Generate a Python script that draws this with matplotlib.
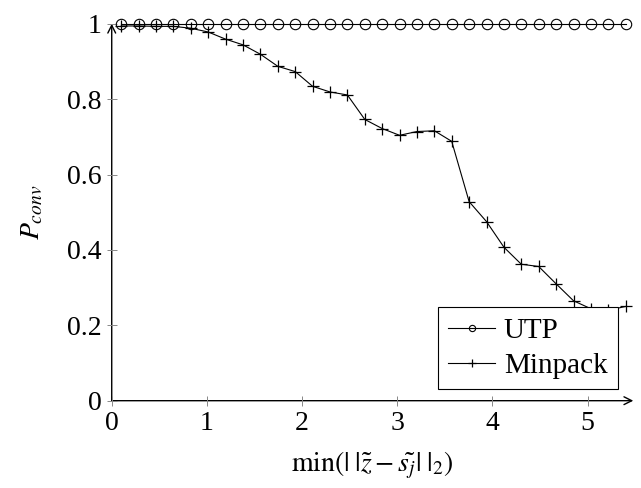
import matplotlib.pyplot as plt

plt.rcParams["font.family"] = ["Liberation Serif", "DejaVu Serif"]
plt.rcParams["mathtext.fontset"] = "stix"

# shared x positions of both series
dist = [0.100, 0.283, 0.466, 0.648, 0.831, 1.014, 1.197, 1.379, 1.562, 1.745,
        1.928, 2.110, 2.293, 2.476, 2.659, 2.841, 3.024, 3.207, 3.390, 3.572,
        3.755, 3.938, 4.121, 4.303, 4.486, 4.669, 4.852, 5.034, 5.217, 5.400]
utp = [1.0] * 30
minpack = [0.994, 0.994, 0.993, 0.993, 0.988, 0.978, 0.959, 0.944, 0.919, 0.887,
           0.873, 0.834, 0.819, 0.811, 0.746, 0.722, 0.704, 0.714, 0.716, 0.688,
           0.528, 0.475, 0.407, 0.362, 0.356, 0.310, 0.265, 0.244, 0.240, 0.250]

x_ticks = [0, 1, 2, 3, 4, 5]
y_ticks = [0, 0.2, 0.4, 0.6, 0.8, 1]
y_tick_labels = ["0", "0.2", "0.4", "0.6", "0.8", "1"]

fig = plt.figure(figsize=(6.41, 4.88), dpi=100)
ax = fig.add_axes([0.1743, 0.1789, 0.8137, 0.7725])

ax.plot(dist, utp, color="black", lw=0.8, marker="o", markersize=7.5,
        markerfacecolor="none", markeredgewidth=0.8, label="UTP", clip_on=False)
ax.plot(dist, minpack, color="black", lw=0.8, marker="+", markersize=9,
        markeredgewidth=0.9, label="Minpack", clip_on=False)

ax.set_xlim(0, 5.48)
ax.set_ylim(0, 1)
ax.set_xticks(x_ticks)
ax.set_yticks(y_ticks)
ax.set_yticklabels(y_tick_labels)
ax.tick_params(direction="inout", length=7, width=0.7, color="#888888",
               labelsize=20, pad=4)

for side in ["top", "right", "left", "bottom"]:
    ax.spines[side].set_visible(False)

# pgfplots-style axis lines with arrow heads
arrow = dict(arrowstyle="->", lw=1.0, color="black", shrinkA=0, shrinkB=0,
             mutation_scale=14)
ax.annotate("", xy=(1.0, 0), xytext=(0, 0), xycoords="axes fraction",
            arrowprops=arrow, zorder=0)
ax.annotate("", xy=(0, 1.0), xytext=(0, 0), xycoords="axes fraction",
            arrowprops=arrow, zorder=0)

ax.set_xlabel(r"$\min(|\;|\tilde{z}-\tilde{s_j}|\;|_2)$", fontsize=20, labelpad=10)
ax.set_ylabel(r"$P_{conv}$", fontsize=20, labelpad=15)

leg = ax.legend(loc="lower right", bbox_to_anchor=(0.97, 0.03),
                borderaxespad=0, fancybox=False, edgecolor="black",
                framealpha=1, fontsize=21, handlelength=1.6, markerscale=0.6,
                handletextpad=0.3, borderpad=0.35, labelspacing=0.3)
leg.get_frame().set_linewidth(0.8)
leg.set_zorder(5)

fig.savefig("out.png", dpi=100)
